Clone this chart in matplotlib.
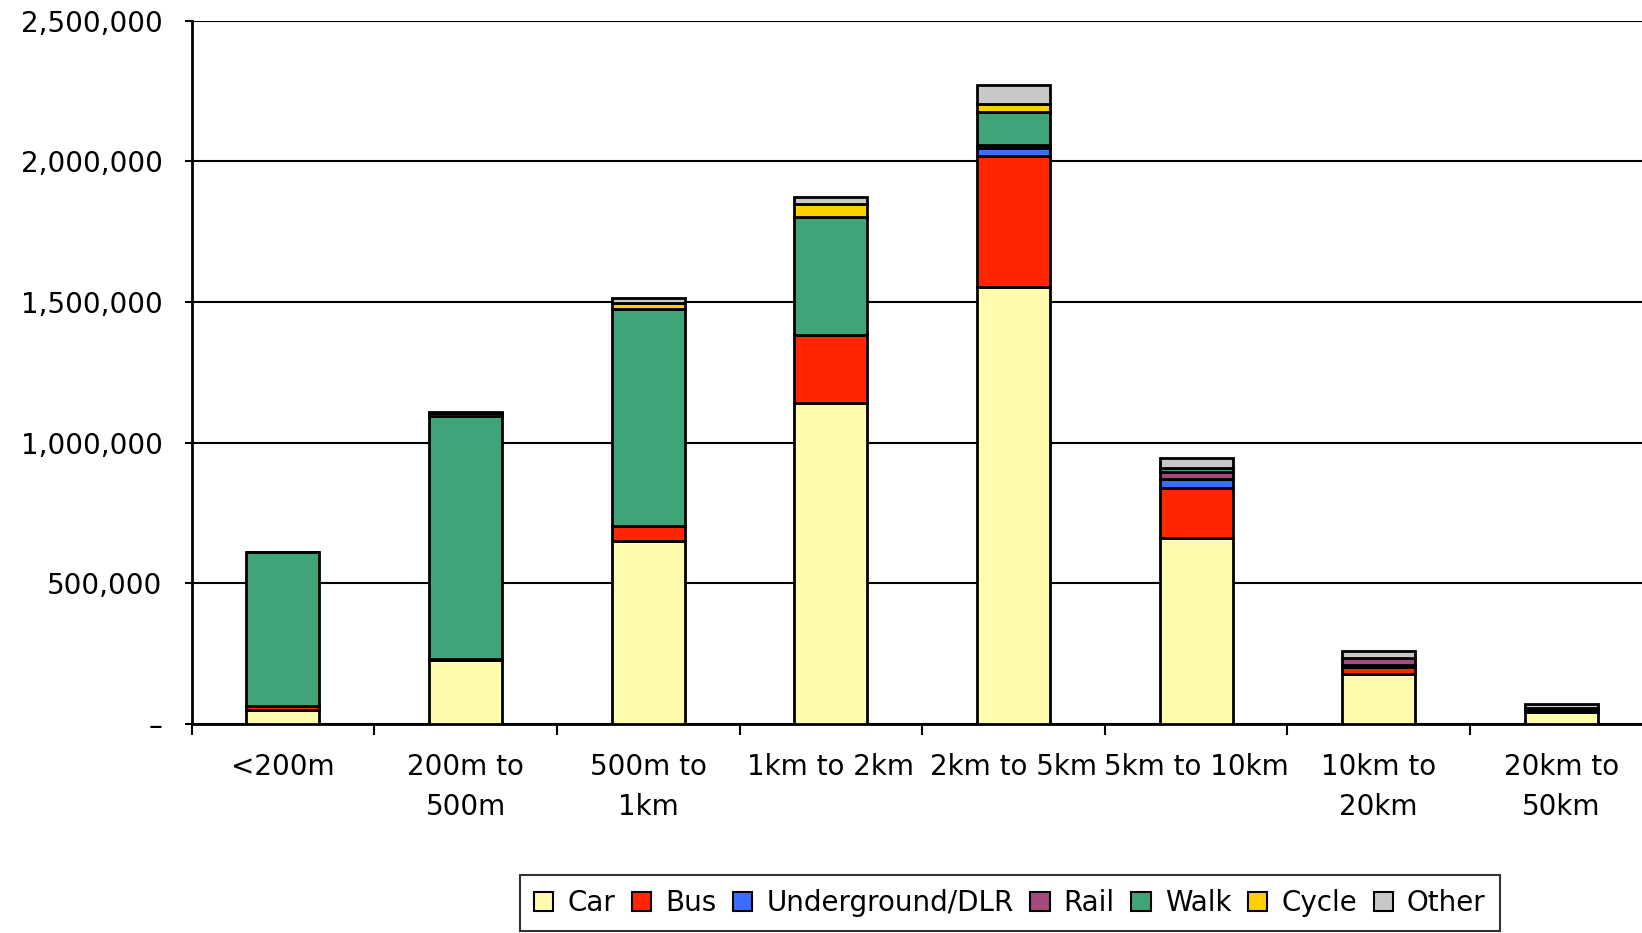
import numpy as np
import matplotlib.pyplot as plt
from matplotlib.ticker import FuncFormatter

categories = ['<200m', '200m to\n500m', '500m to\n1km', '1km to 2km', '2km to 5km',
              '5km to 10km', '10km to\n20km', '20km to\n50km']
car = [50000, 228000, 648000, 1140000, 1553000, 661000, 175000, 42000]
bus = [14000, 3000, 56000, 242000, 467000, 178000, 25000, 3000]
underground = [0, 0, 0, 0, 28000, 30000, 10000, 2000]
rail = [0, 0, 0, 0, 11000, 27000, 22000, 10000]
walk = [545000, 865000, 771000, 421000, 117000, 12000, 0, 0]
cycle = [0, 8000, 22000, 46000, 27000, 3000, 0, 0]
other = [0, 3000, 17000, 25000, 69000, 33000, 25000, 12000]

modes = ['Car', 'Bus', 'Underground/DLR', 'Rail', 'Walk', 'Cycle', 'Other']
series = [car, bus, underground, rail, walk, cycle, other]
colors = ['#FFFCAE', '#FF2600', '#3A6EFF', '#A64A7E', '#3FA579', '#FFD000', '#C8C8C8']

plt.rcParams['font.family'] = ['DejaVu Sans']
fig = plt.figure(figsize=(16.42, 9.33), dpi=100)
ax = fig.add_axes([0.1167, 0.2244, 0.8898, 0.7532])

x = np.arange(len(categories))
bottom = np.zeros(len(categories))
for name, vals, c in zip(modes, series, colors):
    vals = np.array(vals, dtype=float)
    ax.bar(x, vals, 0.40, bottom=bottom, color=c, edgecolor='black',
           linewidth=2, label=name, zorder=3)
    bottom += vals

ax.set_xlim(-0.5, 7.5)
ax.set_ylim(0, 2500000)
ax.set_yticks(np.arange(0, 2500001, 500000))
ax.yaxis.set_major_formatter(FuncFormatter(lambda v, p: '–' if v == 0 else f'{int(v):,}'))
ax.grid(axis='y', color='black', linewidth=1.5, zorder=0)
ax.set_xticks(x)
ax.set_xticklabels(categories, linespacing=1.55)
ax.set_xticks(np.arange(-0.5, 7.6, 1), minor=True)
ax.tick_params(axis='x', which='major', length=0, pad=21, labelsize=20)
ax.tick_params(axis='x', which='minor', length=8, width=1.5, direction='out')
ax.tick_params(axis='y', length=5, width=1.5, pad=16, labelsize=20)
for s in ['top', 'right']:
    ax.spines[s].set_visible(False)
ax.spines['left'].set_linewidth(2)
ax.spines['bottom'].set_linewidth(2)

leg = fig.legend(loc='lower center', bbox_to_anchor=(0.615, 0.002), ncol=7,
                 fontsize=20, frameon=True, fancybox=False, edgecolor='black',
                 handlelength=0.7, handleheight=0.7, handletextpad=0.5,
                 columnspacing=0.6, borderpad=0.5, borderaxespad=0)
leg.get_frame().set_linewidth(1.5)
for h in leg.legend_handles:
    h.set_linewidth(1.5)

fig.savefig('out.png', dpi=100)
